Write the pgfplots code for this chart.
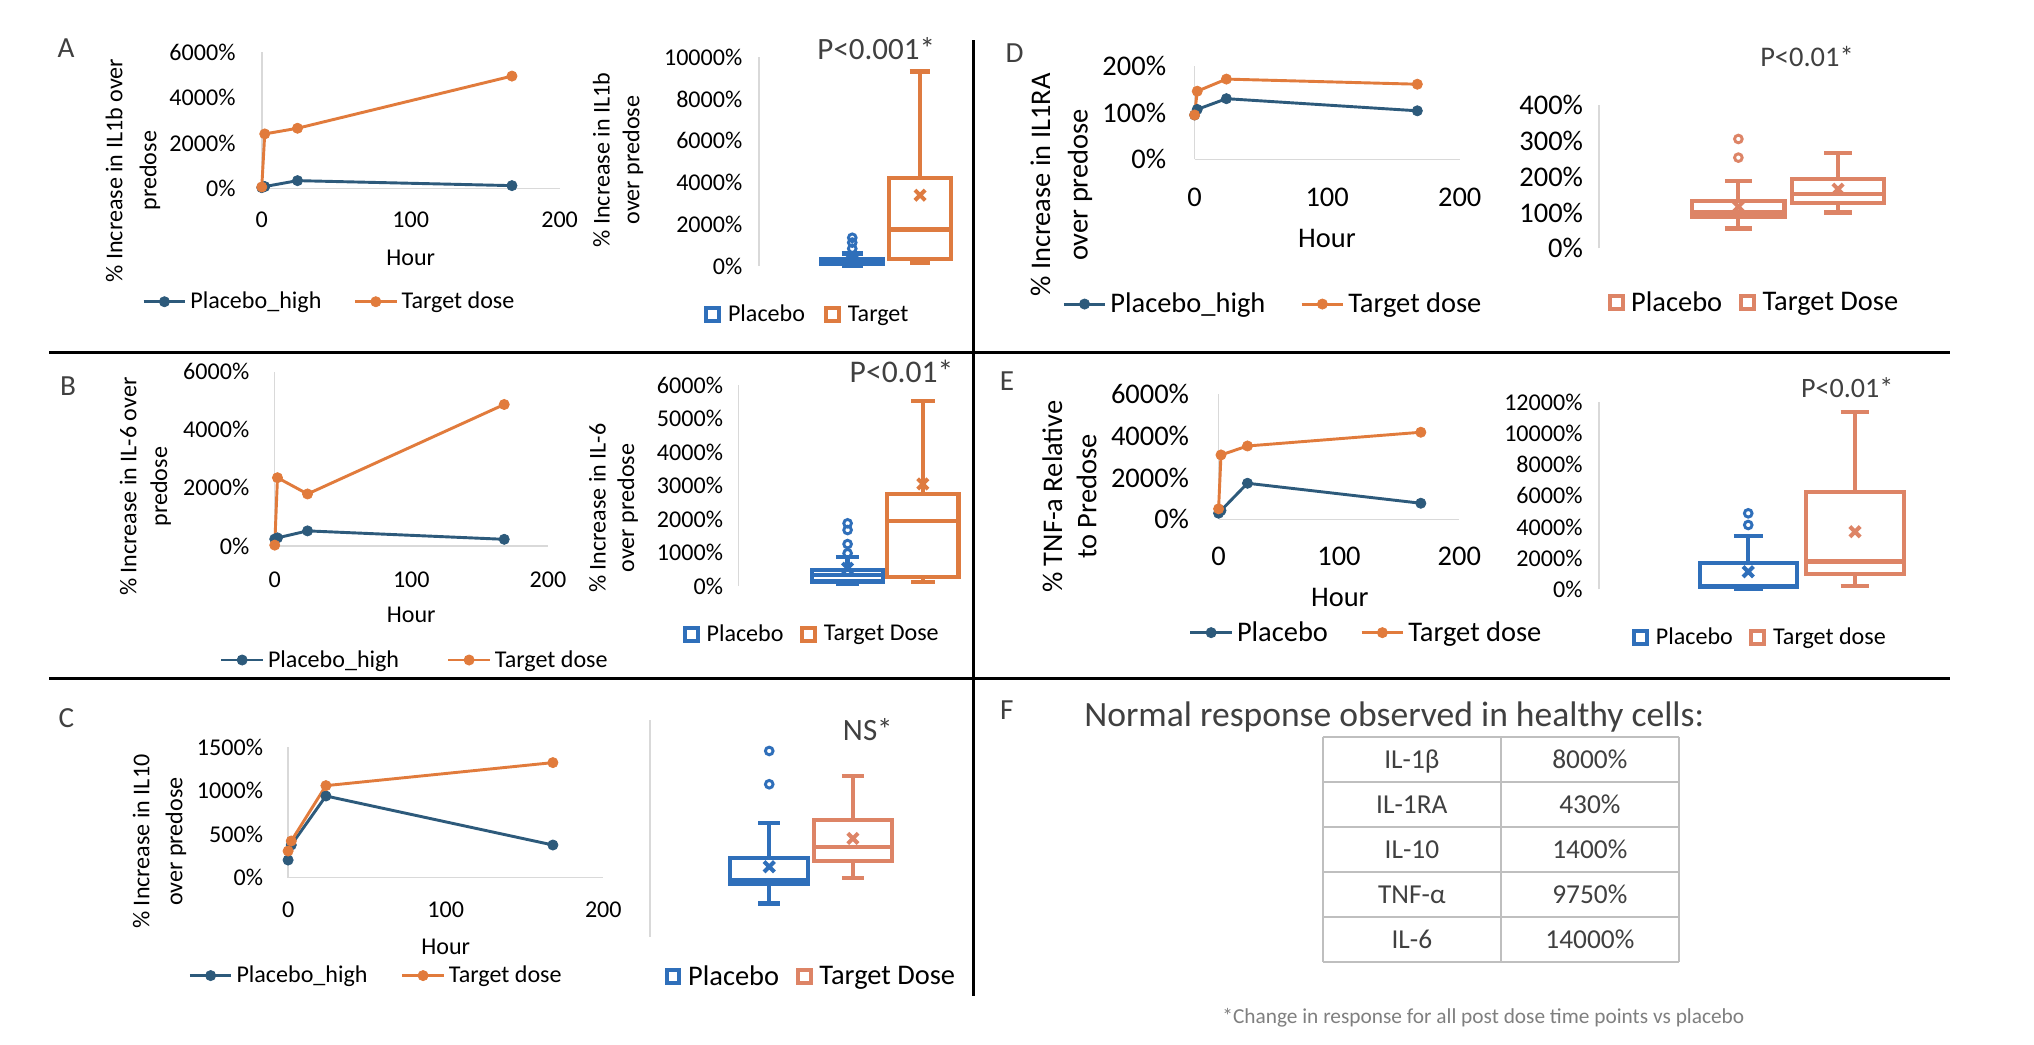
\documentclass[border=0pt]{standalone}
\usepackage{fontspec}
\setmainfont{Carlito}
\usepackage{pgfplots}
\usepackage{pgfplotstable}
\pgfplotsset{compat=1.18}
\usepgfplotslibrary{statistics}

\definecolor{lnBlue}{HTML}{2D5A7B}
\definecolor{lnOrange}{HTML}{E17B3C}
\definecolor{bxBlue}{HTML}{2F6FBA}
\definecolor{bxOrange}{HTML}{DE7B40}
\definecolor{bxSalmon}{HTML}{DD8466}
\definecolor{axGray}{HTML}{D9D9D9}
\definecolor{tbGray}{HTML}{BFBFBF}
\definecolor{txGray}{HTML}{404040}
\definecolor{ftGray}{HTML}{7F7F7F}

\def\u{0.25mm}
\newcommand{\fa}{\fontsize{13.2pt}{16pt}\selectfont}
\newcommand{\fb}{\fontsize{15.6pt}{19pt}\selectfont}
% square key used by the box-plot legends
\newcommand{\boxkey}[1]{\addlegendimage{legend image code/.code={\draw[line width=2.2pt, draw=#1] (0mm,-1.25mm) rectangle (2.5mm,1.25mm); \path (3.4mm,0mm);}}}

% time courses: hour, placebo, target dose (% increase over predose)
\pgfplotstableread{
hour placebo target
0   30   60
2   80   2400
24  340  2650
168 120  4950
}\dataA
\pgfplotstableread{
hour placebo target
0   240  30
2   280  2350
24  520  1790
168 230  4870
}\dataB
\pgfplotstableread{
hour placebo target
0   203  307
2   376  422
24  940  1059
168 376  1324
}\dataC
\pgfplotstableread{
hour placebo target
0   95   95
2   107  146
24  130  172
168 104  161
}\dataD
\pgfplotstableread{
hour placebo target
0   290  500
2   420  3090
24  1730 3520
168 770  4180
}\dataE

\pgfplotsset{
  base/.style={scale only axis, anchor=south west, clip=false,
    major tick length=0pt, scaled y ticks=false, scaled x ticks=false,
    axis line style={draw=axGray, line width=0.8pt, -},
    /pgf/number format/assume math mode=true,
    legend style={draw=none, fill=none, legend columns=2, anchor=center}},
  linechart/.style={base, axis x line*=bottom, axis y line*=left,
    xmin=0, xmax=200, xtick={0,100,200}, xticklabels={0,100,200},
    legend image code/.code={\draw[mark repeat=2,mark phase=2,##1] plot coordinates {(0mm,0mm) (4mm,0mm) (8mm,0mm)};}},
  boxchart/.style={base, axis y line*=left, axis x line=none, xtick=\empty,
    boxplot/draw direction=y,
    boxplot/every box/.style={draw, line width=2.3pt},
    boxplot/every whisker/.style={line width=2.3pt},
    boxplot/every median/.style={line width=2.3pt}},
  pl/.style={color=lnBlue, line width=1.6pt, mark=*, mark size=2.8pt, mark options={solid, line width=0.4pt}},
  tg/.style={color=lnOrange, line width=1.6pt, mark=*, mark size=2.8pt, mark options={solid, line width=0.4pt}},
  bx/.style={line width=2.3pt, mark=o, mark size=2.1pt, mark options={line width=1.6pt}, forget plot},
  mean/.style={only marks, mark=x, mark size=4pt, mark options={line width=2.2pt}, forget plot},
}

\begin{document}
\begin{tikzpicture}
\fill[white] (0,0) rectangle ({1568*\u},{-805*\u});
\path[use as bounding box] (0,0) rectangle ({1568*\u},{-805*\u});

% ---------------- A: IL1b ----------------
\begin{axis}[linechart, at={({201.8*\u},{-145.2*\u})}, width=229.6*\u, height=104.9*\u,
  ymin=0, ymax=6000, ytick={0,2000,4000,6000}, yticklabels={0\%,2000\%,4000\%,6000\%},
  xticklabel style={font=\fa, anchor=center, yshift=-24.4*\u},
  yticklabel style={font=\fa, anchor=east, inner sep=0pt, xshift=-20*\u},
  legend style={font=\fa, at={(0.2295,-0.8332)}, /tikz/every even column/.append style={column sep=5.5mm}}]
\addplot[pl] table[x=hour,y=placebo]{\dataA}; \addlegendentry{Placebo\_high}
\addplot[tg] table[x=hour,y=target]{\dataA}; \addlegendentry{Target dose}
\end{axis}

\begin{axis}[boxchart, at={({585.1*\u},{-205*\u})}, width=160*\u, height=160.8*\u,
  xmin=0, xmax=160, ymin=0, ymax=10000,
  ytick={0,2000,4000,6000,8000,10000}, yticklabels={0\%,2000\%,4000\%,6000\%,8000\%,10000\%},
  yticklabel style={font=\fa, anchor=east, inner sep=0pt, xshift=-12.6*\u},
  legend style={font=\fa, at={(0.237,-0.235)}, /tikz/every even column/.append style={column sep=3mm}}]
\boxkey{bxBlue}\addlegendentry{Placebo}
\boxkey{bxOrange}\addlegendentry{Target}
\addplot[bx, bxBlue, boxplot prepared={draw position=71.9, lower whisker=20, lower quartile=80, median=150, upper quartile=330, upper whisker=600, box extend=48, whisker extend=16}]
  table[row sep=\\, y index=0]{y\\ 830\\ 1120\\ 1350\\};
\addplot[mean, bxBlue] coordinates {(71.9,250)};
\addplot[bx, bxOrange, boxplot prepared={draw position=124.2, lower whisker=160, lower quartile=320, median=1750, upper quartile=4220, upper whisker=9320, box extend=48, whisker extend=16}]
  coordinates {};
\addplot[mean, bxOrange] coordinates {(124.2,3390)};
\end{axis}

% ---------------- B: IL-6 ----------------
\begin{axis}[linechart, at={({211.8*\u},{-420.9*\u})}, width=210.6*\u, height=134.4*\u,
  ymin=0, ymax=6000, ytick={0,2000,4000,6000}, yticklabels={0\%,2000\%,4000\%,6000\%},
  xticklabel style={font=\fa, anchor=center, yshift=-25.7*\u},
  yticklabel style={font=\fa, anchor=east, inner sep=0pt, xshift=-19.4*\u},
  legend style={font=\fa, at={(0.5157,-0.654)}, /tikz/every even column/.append style={column sep=8.5mm}}]
\addplot[pl] table[x=hour,y=placebo]{\dataB}; \addlegendentry{Placebo\_high}
\addplot[tg] table[x=hour,y=target]{\dataB}; \addlegendentry{Target dose}
\end{axis}

\begin{axis}[boxchart, at={({569.2*\u},{-451.7*\u})}, width=180*\u, height=154.9*\u,
  xmin=0, xmax=180, ymin=0, ymax=6000,
  ytick={0,1000,2000,3000,4000,5000,6000}, yticklabels={0\%,1000\%,2000\%,3000\%,4000\%,5000\%,6000\%},
  yticklabel style={font=\fa, anchor=east, inner sep=0pt, xshift=-11.6*\u},
  legend style={font=\fa, at={(0.318,-0.2395)}, /tikz/every even column/.append style={column sep=2.5mm}}]
\boxkey{bxBlue}\addlegendentry{Placebo}
\boxkey{bxOrange}\addlegendentry{Target Dose}
\addplot[bx, bxBlue, boxplot prepared={draw position=84.2, lower whisker=50, lower quartile=130, median=330, upper quartile=480, upper whisker=855, box extend=55, whisker extend=18}]
  table[row sep=\\, y index=0]{y\\ 975\\ 1250\\ 1670\\ 1870\\};
\addplot[mean, bxBlue] coordinates {(84.2,530)};
\addplot[bx, bxOrange, boxplot prepared={draw position=142.2, lower whisker=110, lower quartile=260, median=1940, upper quartile=2750, upper whisker=5520, box extend=55, whisker extend=18}]
  coordinates {};
\addplot[mean, bxOrange] coordinates {(142.2,3045)};
\end{axis}

% ---------------- C: IL10 ----------------
\begin{axis}[linechart, at={({222.1*\u},{-676.6*\u})}, width=243*\u, height=100.5*\u,
  ymin=0, ymax=1500, ytick={0,500,1000,1500}, yticklabels={0\%,500\%,1000\%,1500\%},
  xticklabel style={font=\fa, anchor=center, yshift=-24.9*\u},
  yticklabel style={font=\fa, anchor=east, inner sep=0pt, xshift=-19.1*\u},
  legend style={font=\fa, at={(0.2815,-0.751)}, /tikz/every even column/.append style={column sep=5.7mm}}]
\addplot[pl] table[x=hour,y=placebo]{\dataC}; \addlegendentry{Placebo\_high}
\addplot[tg] table[x=hour,y=target]{\dataC}; \addlegendentry{Target dose}
\end{axis}

\begin{axis}[boxchart, at={({501.1*\u},{-722*\u})}, width=230*\u, height=167*\u,
  xmin=0, xmax=230, ymin=0, ymax=1600, ytick=\empty,
  legend style={font=\fb, at={(0.5417,-0.185)}, /tikz/every even column/.append style={column sep=2.5mm}}]
\boxkey{bxBlue}\addlegendentry{Placebo}
\boxkey{bxSalmon}\addlegendentry{Target Dose}
\addplot[bx, bxBlue, boxplot prepared={draw position=91.9, lower whisker=245, lower quartile=388, median=418, upper quartile=582, upper whisker=841, box extend=60, whisker extend=17}]
  table[row sep=\\, y index=0]{y\\ 1125\\ 1371\\};
\addplot[mean, bxBlue] coordinates {(91.9,516)};
\addplot[bx, bxSalmon, boxplot prepared={draw position=156.4, lower whisker=435, lower quartile=560, median=659, upper quartile=861, upper whisker=1186, box extend=60, whisker extend=17}]
  coordinates {};
\addplot[mean, bxSalmon] coordinates {(156.4,725)};
\end{axis}

% ---------------- D: IL1RA ----------------
\begin{axis}[linechart, at={({920.9*\u},{-122.8*\u})}, width=204.4*\u, height=71.9*\u,
  ymin=0, ymax=200, ytick={0,100,200}, yticklabels={0\%,100\%,200\%},
  xticklabel style={font=\fb, anchor=center, yshift=-29.3*\u},
  yticklabel style={font=\fb, anchor=east, inner sep=0pt, xshift=-21.7*\u},
  legend style={font=\fb, at={(0.2984,-1.552)}, /tikz/every even column/.append style={column sep=6mm}}]
\addplot[pl] table[x=hour,y=placebo]{\dataD}; \addlegendentry{Placebo\_high}
\addplot[tg] table[x=hour,y=target]{\dataD}; \addlegendentry{Target dose}
\end{axis}

\begin{axis}[boxchart, at={({1232.5*\u},{-191.4*\u})}, width=260*\u, height=110.5*\u,
  xmin=0, xmax=260, ymin=0, ymax=400,
  ytick={0,100,200,300,400}, yticklabels={0\%,100\%,200\%,300\%,400\%},
  yticklabel style={font=\fb, anchor=east, inner sep=0pt, xshift=-11.9*\u},
  legend style={font=\fb, at={(0.4623,-0.379)}, /tikz/every even column/.append style={column sep=2.5mm}}]
\boxkey{bxSalmon}\addlegendentry{Placebo}
\boxkey{bxSalmon}\addlegendentry{Target Dose}
\addplot[bx, bxSalmon, boxplot prepared={draw position=107.6, lower whisker=55, lower quartile=88, median=100, upper quartile=132, upper whisker=188, box extend=71, whisker extend=21}]
  table[row sep=\\, y index=0]{y\\ 253\\ 305\\};
\addplot[mean, bxSalmon] coordinates {(107.6,116)};
\addplot[bx, bxSalmon, boxplot prepared={draw position=184.4, lower whisker=100, lower quartile=126, median=151, upper quartile=193, upper whisker=267, box extend=71, whisker extend=21}]
  coordinates {};
\addplot[mean, bxSalmon] coordinates {(184.4,165)};
\end{axis}

% ---------------- E: TNF-a ----------------
\begin{axis}[linechart, at={({939.4*\u},{-400.3*\u})}, width=185.6*\u, height=96.3*\u,
  ymin=0, ymax=6000, ytick={0,2000,4000,6000}, yticklabels={0\%,2000\%,4000\%,6000\%},
  xticklabel style={font=\fb, anchor=center, yshift=-28.3*\u},
  yticklabel style={font=\fb, anchor=east, inner sep=0pt, xshift=-22.5*\u},
  legend style={font=\fb, at={(0.6164,-0.9076)}, /tikz/every even column/.append style={column sep=5.5mm}}]
\addplot[pl] table[x=hour,y=placebo]{\dataE}; \addlegendentry{Placebo}
\addplot[tg] table[x=hour,y=target]{\dataE}; \addlegendentry{Target dose}
\end{axis}

\begin{axis}[boxchart, at={({1232.5*\u},{-454.3*\u})}, width=260*\u, height=144.1*\u,
  xmin=0, xmax=260, ymin=0, ymax=12000,
  ytick={0,2000,4000,6000,8000,10000,12000}, yticklabels={0\%,2000\%,4000\%,6000\%,8000\%,10000\%,12000\%},
  yticklabel style={font=\fa, anchor=east, inner sep=0pt, xshift=-12.3*\u},
  legend style={font=\fa, at={(0.4804,-0.259)}, /tikz/every even column/.append style={column sep=2.5mm}}]
\boxkey{bxBlue}\addlegendentry{Placebo}
\boxkey{bxSalmon}\addlegendentry{Target dose}
\addplot[bx, bxBlue, boxplot prepared={draw position=115.2, lower whisker=30, lower quartile=150, median=200, upper quartile=1710, upper whisker=3420, box extend=75, whisker extend=22}]
  table[row sep=\\, y index=0]{y\\ 4130\\ 4880\\};
\addplot[mean, bxBlue] coordinates {(115.2,1130)};
\addplot[bx, bxSalmon, boxplot prepared={draw position=197.5, lower whisker=210, lower quartile=960, median=1780, upper quartile=6230, upper whisker=11360, box extend=75, whisker extend=22}]
  coordinates {};
\addplot[mean, bxSalmon] coordinates {(197.5,3700)};
\end{axis}

% ---------------- labels, dividers and table ----------------
\begin{scope}[x=\u, y=-\u]
  % panel dividers
  \draw[line width=1.6pt] (38,271.4) -- (1503,271.4);
  \draw[line width=1.6pt] (38,523.4) -- (1503,523.4);
  \draw[line width=1.6pt] (750.8,31) -- (750.8,768);

  % panel letters
  \foreach \l/\x/\y in {A/51/37, B/52.5/298, C/51.1/553.8, D/782.1/41.1, E/776.2/294.2, F/776.2/547.3}
    \node[font=\fontsize{16pt}{18pt}\selectfont, text=txGray] at (\x,\y) {\l};

  % axis titles
  \node[font=\fa] at (316.6,199) {Hour};
  \node[font=\fa] at (317,474.1) {Hour};
  \node[font=\fa] at (343.6,729.8) {Hour};
  \node[font=\fb] at (1023,183.7) {Hour};
  \node[font=\fb] at (1032.9,460.7) {Hour};

  \node[rotate=90, align=center, inner sep=0pt, font=\fontsize{13.2pt}{18.6pt}\selectfont] at (102.5,131.6) {\% Increase in IL1b over\\predose};
  \node[rotate=90, align=center, inner sep=0pt, font=\fontsize{13.2pt}{16.4pt}\selectfont] at (476.5,123.4) {\% Increase in IL1b\\over predose};
  \node[rotate=90, align=center, inner sep=0pt, font=\fontsize{13.2pt}{16.8pt}\selectfont] at (112.1,375.2) {\% Increase in IL-6 over\\predose};
  \node[rotate=90, align=center, inner sep=0pt, font=\fontsize{13.2pt}{15.6pt}\selectfont] at (473,391.7) {\% Increase in IL-6\\over predose};
  \node[rotate=90, align=center, inner sep=0pt, font=\fontsize{13.2pt}{18.1pt}\selectfont] at (123,648.8) {\% Increase in IL10\\over predose};
  \node[rotate=90, align=center, inner sep=0pt, font=\fontsize{15.6pt}{20.6pt}\selectfont] at (818.2,142.6) {\% Increase in IL1RA\\over predose};
  \node[rotate=90, align=center, inner sep=0pt, font=\fontsize{15.6pt}{18.8pt}\selectfont] at (824.5,382.9) {\% TNF-a Relative\\to Predose};

  % significance notes
  \node[font=\fontsize{17pt}{20pt}\selectfont, text=txGray] at (675.5,37.8) {P<0.001*};
  \node[font=\fontsize{17.3pt}{20pt}\selectfont, text=txGray] at (695,286.5) {P<0.01*};
  \node[font=\fontsize{17pt}{20pt}\selectfont, text=txGray] at (669,562.8) {NS*};
  \node[font=\fontsize{15.6pt}{19pt}\selectfont, text=txGray] at (1393,43.7) {P<0.01*};
  \node[font=\fontsize{15.4pt}{19pt}\selectfont, text=txGray] at (1424,298.9) {P<0.01*};

  % F: reference table
  \node[anchor=base, font=\fontsize{19.5pt}{23pt}\selectfont, text=txGray] at (1074.8,560.2) {Normal response observed in healthy cells:};
  \foreach \yy in {567.9,602.6,637.3,672,706.7,741.4}
    \draw[tbGray, line width=0.9pt] (1019.7,\yy) -- (1294.2,\yy);
  \foreach \xx in {1019.7,1157,1294.2}
    \draw[tbGray, line width=0.9pt] (\xx,567.9) -- (\xx,741.4);
  \foreach \a/\b/\yy in {IL-1β/8000\%/592.3, IL-1RA/430\%/627, IL-10/1400\%/661.7, TNF-α/9750\%/696.4, IL-6/14000\%/731.1} {
    \node[anchor=base, font=\fontsize{15pt}{18pt}\selectfont, text=txGray] at (1088.4,\yy) {\a};
    \node[anchor=base, font=\fontsize{15pt}{18pt}\selectfont, text=txGray] at (1225.6,\yy) {\b};
  }
  \node[anchor=base, font=\fontsize{11.7pt}{14pt}\selectfont, text=ftGray] at (1143.5,788.9) {*Change in response for all post dose time points vs placebo};
\end{scope}
\end{tikzpicture}
\end{document}
